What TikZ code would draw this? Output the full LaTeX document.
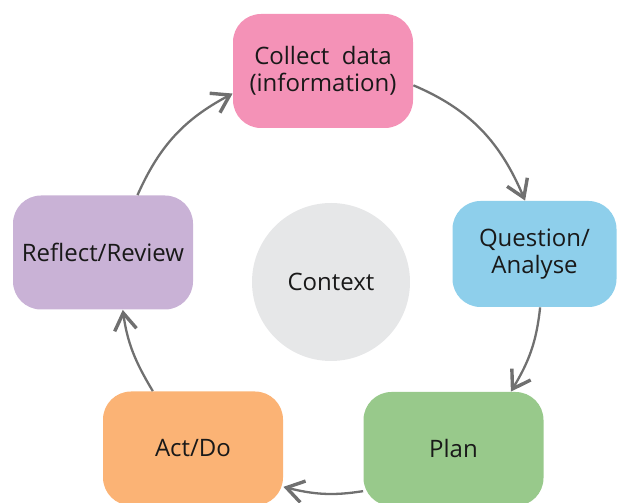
\documentclass[tikz,border=0pt]{standalone}
\usepackage{fontspec}
\setmainfont{Open Sans}
\usetikzlibrary{arrows.meta}
\definecolor{collectpink}{RGB}{244,146,183}
\definecolor{questionblue}{RGB}{142,207,235}
\definecolor{plangreen}{RGB}{152,201,139}
\definecolor{actorange}{RGB}{251,179,117}
\definecolor{reflectlilac}{RGB}{201,178,214}
\definecolor{contextgray}{RGB}{230,231,232}
\definecolor{flowgray}{RGB}{112,112,112}

\begin{document}
\begin{tikzpicture}[x=0.5pt,y=0.5pt,
    box/.style={rounded corners=14pt,minimum width=90pt,minimum height=57pt,inner sep=2pt,
        align=center,font=\fontsize{12}{13.3}\selectfont,text=black!90},
    flow/.style={flowgray,line width=1.15pt,-{Straight Barb[length=8.5pt,width=11pt,line width=1.7pt]}}]
\clip (0,0) rectangle (617,503);
% the five steps round the cycle
\node[box,fill=collectpink] (collect) at (323,432) {Collect~~data\\(information)};
\node[box,fill=questionblue,minimum width=82pt,minimum height=53pt] (question) at (534.5,249) {Question/\\Analyse};
\node[box,fill=plangreen] (plan) at (453.5,54) {Plan};
\node[box,fill=actorange] (act) at (193,54.5) {Act/Do};
\node[box,fill=reflectlilac] (reflect) at (103,250.5) {Reflect/Review};
\node[circle,fill=contextgray,minimum size=79pt,inner sep=0pt,font=\fontsize{12}{13.3}\selectfont,text=black!90] (ctx) at (331,221) {Context};
% arrows along the circle
\draw[flow] (collect.-9) to[out=-23,in=113] (question.100);
\draw[flow] (question.-84) to[out=-96,in=59] (plan.45);
\draw[flow] (plan.205) to[out=189,in=-14] (act.-23);
\draw[flow] (act.125) to[out=121,in=-82] (reflect.-71);
\draw[flow] (reflect.59) to[out=66,in=208] (collect.194);
\end{tikzpicture}
\end{document}
